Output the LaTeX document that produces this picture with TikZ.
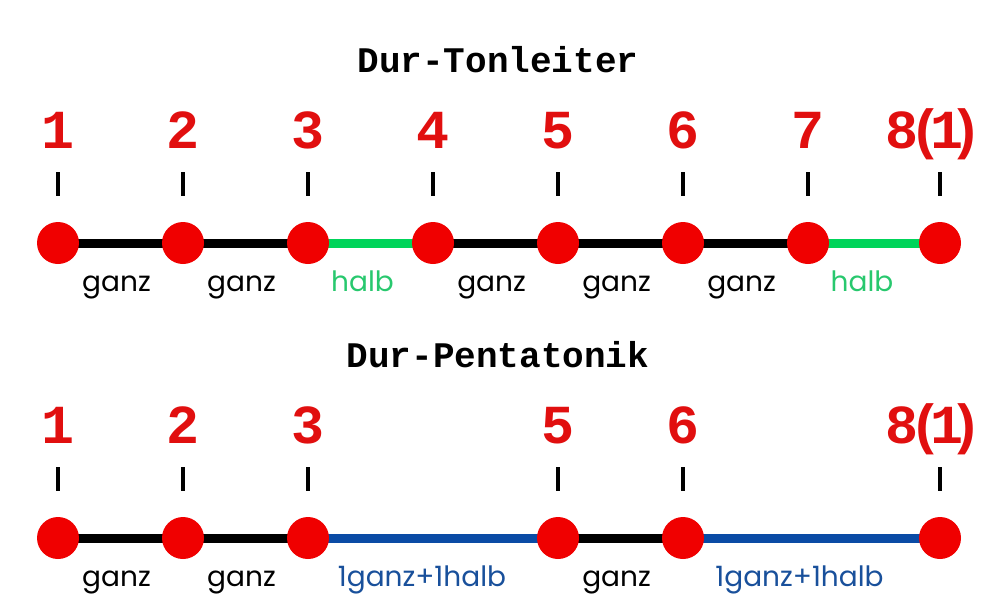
\documentclass[tikz,border=0pt]{standalone}
\usepackage{fontspec}
\newfontfamily\monofam{Liberation Mono}
\newfontfamily\labfont{Poppins}
\usetikzlibrary{backgrounds}
\definecolor{dotred}{RGB}{240,0,0}
\definecolor{numred}{RGB}{225,15,15}
\definecolor{halfgreen}{RGB}{0,212,90}
\definecolor{labgreen}{RGB}{40,200,110}
\definecolor{stepblue}{RGB}{10,75,165}
\definecolor{labblue}{RGB}{25,80,155}
\newcommand{\eightone}{8\kern-9pt(\kern-12pt1\kern-14pt)}
\tikzset{
  dot/.style={circle, fill=dotred, draw=none, minimum size=42pt, inner sep=0pt},
  tickmark/.style={rectangle, fill=black, draw=none, minimum width=3.5pt, minimum height=24pt, inner sep=0pt},
  num/.style={anchor=base, text=numred, font=\monofam\bfseries\fontsize{55}{60}\selectfont, inner sep=0pt},
  title/.style={anchor=base, font=\monofam\bfseries\fontsize{36}{40}\selectfont, inner sep=0pt},
  seg/.style={line width=9pt},
  ganzseg/.style={seg, draw=black},
  halbseg/.style={seg, draw=halfgreen},
  bigseg/.style={seg, draw=stepblue},
  lab/.style={midway, anchor=base, yshift=-48pt, inner sep=0pt, font=\labfont\fontsize{28}{32}\selectfont},
}
\begin{document}
\begin{tikzpicture}[x=1pt,y=-1pt]
\useasboundingbox (0,0) rectangle (1000,600);
% titles
\node[title] (t1) at (498,72) {Dur-Tonleiter};
\node[title] (t2) at (498,367) {Dur-Pentatonik};
% top row
\foreach \i/\x/\lab in {1/58/1,2/183/2,3/308/3,4/433/4,5/558/5,6/683/6,7/808/7}{
  \node[dot] (c\i) at (\x,243) {};
  \node[tickmark] (k\i) at (\x,184) {};
  \node[num] (n\i) at (\x,148) {\lab};
}
\node[dot] (c8) at (940,243) {};
\node[tickmark] (k8) at (940,184) {};
\node[num] (n8) at (934,148) {\eightone};
% bottom row
\foreach \i/\x/\lab in {1/58/1,2/183/2,3/308/3,5/558/5,6/683/6}{
  \node[dot] (d\i) at (\x,538) {};
  \node[tickmark] (m\i) at (\x,479) {};
  \node[num] (p\i) at (\x,443) {\lab};
}
\node[dot] (d8) at (940,538) {};
\node[tickmark] (m8) at (940,479) {};
\node[num] (p8) at (934,443) {\eightone};
\begin{scope}[on background layer]
  \draw[ganzseg] (c1.center) -- node[lab, xshift=-4pt] {ganz} (c2.center);
  \draw[ganzseg] (c2.center) -- node[lab, xshift=-4pt] {ganz} (c3.center);
  \draw[halbseg] (c3.center) -- node[lab, xshift=-8pt, text=labgreen] {halb} (c4.center);
  \draw[ganzseg] (c4.center) -- node[lab, xshift=-4pt] {ganz} (c5.center);
  \draw[ganzseg] (c5.center) -- node[lab, xshift=-4pt] {ganz} (c6.center);
  \draw[ganzseg] (c6.center) -- node[lab, xshift=-4pt] {ganz} (c7.center);
  \draw[halbseg] (c7.center) -- node[lab, xshift=-12pt, text=labgreen] {halb} (c8.center);
  \draw[ganzseg] (d1.center) -- node[lab, xshift=-4pt] {ganz} (d2.center);
  \draw[ganzseg] (d2.center) -- node[lab, xshift=-4pt] {ganz} (d3.center);
  \draw[bigseg] (d3.center) -- node[lab, xshift=-11pt, text=labblue] {1ganz+1halb} (d5.center);
  \draw[ganzseg] (d5.center) -- node[lab, xshift=-4pt] {ganz} (d6.center);
  \draw[bigseg] (d6.center) -- node[lab, xshift=-12pt, text=labblue] {1ganz+1halb} (d8.center);
\end{scope}
\end{tikzpicture}
\end{document}
